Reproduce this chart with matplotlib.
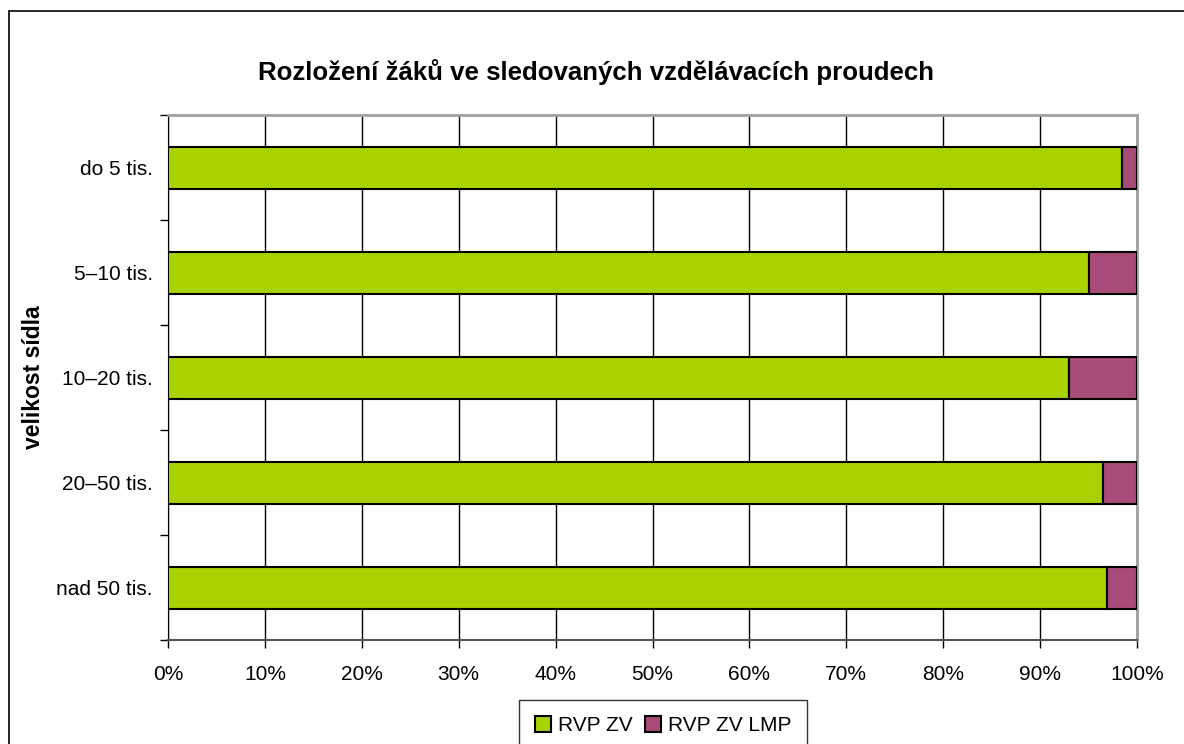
import matplotlib.pyplot as plt
import matplotlib.patches as patches
import numpy as np
from matplotlib.ticker import FuncFormatter, FixedLocator

plt.rcParams['font.family'] = ['Liberation Sans', 'DejaVu Sans']

# data
categories = ['do 5 tis.', '5–10 tis.', '10–20 tis.', '20–50 tis.', 'nad 50 tis.']
rvp_zv = [98.5, 95.0, 93.0, 96.5, 96.9]
rvp_zv_lmp = [1.5, 5.0, 7.0, 3.5, 3.1]
series_names = ['RVP ZV', 'RVP ZV LMP']

green = '#AAD200'
purple = '#A84B78'

W, H = 1184, 744
fig = plt.figure(figsize=(W / 100, H / 100), dpi=100)
ax = fig.add_axes([168 / W, 1 - 640 / H, (1137 - 168) / W, (640 - 115) / H])

y = np.arange(len(categories))
b1 = ax.barh(y, rvp_zv, height=0.4, color=green, edgecolor='black', linewidth=1.5, zorder=3)
b2 = ax.barh(y, rvp_zv_lmp, left=rvp_zv, height=0.4, color=purple, edgecolor='black',
             linewidth=1.5, zorder=3)

ax.set_xlim(0, 100)
ax.set_ylim(len(categories) - 0.5, -0.5)
ax.set_xticks(np.arange(0, 101, 10))
ax.xaxis.set_major_formatter(FuncFormatter(lambda v, p: f'{v:.0f}%'))
ax.set_yticks(y)
ax.set_yticklabels(categories)
ax.yaxis.set_minor_locator(FixedLocator(np.arange(-0.5, len(categories), 1)))
ax.tick_params(axis='y', which='major', length=0, pad=11, labelsize=15)
ax.tick_params(axis='y', which='minor', length=6, width=1, direction='out')
ax.tick_params(axis='x', length=6, width=1, direction='out', labelsize=15, pad=12)

ax.grid(axis='x', color='black', linewidth=1, zorder=0)
for s in ['top', 'right']:
    ax.spines[s].set_color('#A0A0A0')
    ax.spines[s].set_linewidth(2)
ax.spines['left'].set_color('black')
ax.spines['bottom'].set_color('#555555')
ax.spines['bottom'].set_linewidth(1.5)

ax.set_ylabel('velikost sídla', fontsize=16.5, fontweight='bold', labelpad=8)
fig.text(596 / W, 1 - 72 / H, 'Rozložení žáků ve sledovaných vzdělávacích proudech',
         ha='center', va='center', fontsize=18.6, fontweight='bold')

leg = fig.legend([b1, b2], series_names, loc='upper center',
                 bbox_to_anchor=(663 / W, 1 - 690 / H), ncol=2, fontsize=15,
                 frameon=True, fancybox=False, edgecolor='black', handlelength=0.8,
                 handleheight=0.8, handletextpad=0.3, columnspacing=0.6, borderpad=0.75)
leg.get_frame().set_linewidth(1)

fig.patches.append(patches.Rectangle((9 / W, -0.1), 1.2, 1.1 - 11 / H, transform=fig.transFigure,
                                     fill=False, edgecolor='black', linewidth=1.2))

fig.savefig('out.png', dpi=100)
